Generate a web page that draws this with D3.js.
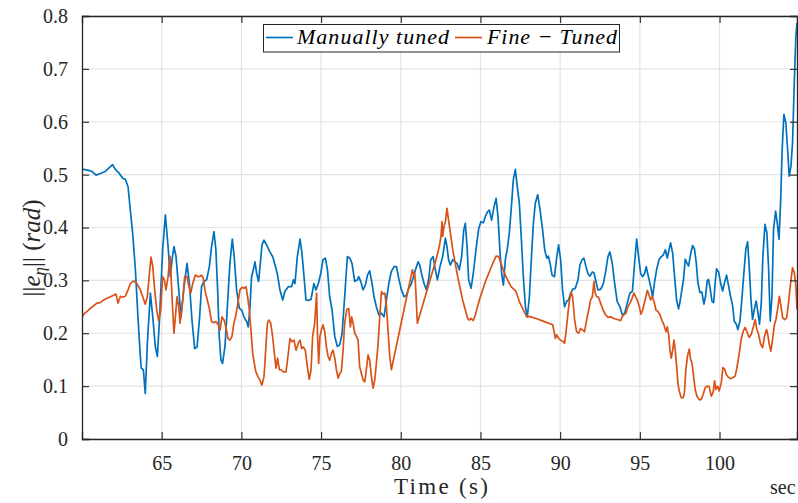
<!DOCTYPE html>
<html>
<head>
<meta charset="utf-8">
<script src="https://cdn.jsdelivr.net/npm/d3@7"></script>
<style>
  html, body { margin: 0; padding: 0; background: #ffffff; overflow: hidden; }
  svg { display: block; }
  text { font-family: "Liberation Serif", "Times New Roman", serif; }
</style>
</head>
<body>
<svg id="chart" width="798" height="503"></svg>
<script>
// Attitude error norm over time for two controller tunings
const manualTime = [60.0,60.1,60.42,60.63,60.88,61.15,61.46,61.78,61.92,62.09,62.3,62.55,62.72,62.89,63.03,63.18,63.35,63.51,63.66,63.72,63.85,63.97,64.1,64.29,64.44,64.6,64.73,64.87,65.06,65.23,65.4,65.54,65.65,65.77,65.9,66.07,66.21,66.38,66.59,66.74,66.9,67.07,67.22,67.38,67.5,67.65,67.82,67.99,68.13,68.28,68.4,68.51,68.61,68.72,68.82,68.97,69.12,69.28,69.43,69.55,69.7,69.87,70.02,70.16,70.33,70.43,70.54,70.64,70.75,70.85,70.96,71.08,71.21,71.29,71.42,71.58,71.79,71.96,72.11,72.25,72.42,72.59,72.73,72.94,73.15,73.26,73.36,73.51,73.68,73.8,73.93,74.05,74.2,74.37,74.55,74.68,74.83,74.98,75.12,75.27,75.4,75.54,75.69,75.86,76.02,76.17,76.32,76.48,76.65,76.8,76.94,77.11,77.28,77.36,77.49,77.63,77.78,77.91,78.05,78.2,78.32,78.47,78.62,78.78,78.95,79.1,79.25,79.41,79.58,79.73,79.87,80.04,80.21,80.35,80.5,80.63,80.77,80.92,81.09,81.19,81.3,81.46,81.61,81.76,81.88,82.03,82.17,82.3,82.46,82.63,82.8,82.9,83.0,83.11,83.26,83.4,83.53,83.67,83.82,83.95,84.05,84.16,84.26,84.41,84.55,84.72,84.89,85.03,85.18,85.31,85.45,85.56,85.7,85.85,85.98,86.1,86.23,86.35,86.44,86.56,86.69,86.81,86.94,87.06,87.19,87.31,87.44,87.57,87.69,87.82,87.94,88.07,88.19,88.32,88.44,88.59,88.74,88.9,89.03,89.16,89.26,89.37,89.49,89.64,89.78,89.9,90.03,90.15,90.28,90.4,90.53,90.66,90.78,90.95,91.12,91.24,91.37,91.49,91.62,91.74,91.87,92.02,92.12,92.25,92.37,92.54,92.71,92.85,93.0,93.12,93.27,93.42,93.58,93.75,93.9,94.05,94.21,94.38,94.53,94.67,94.8,94.92,95.05,95.18,95.3,95.4,95.53,95.68,95.8,95.93,96.05,96.2,96.35,96.47,96.6,96.72,96.83,96.93,97.06,97.18,97.31,97.43,97.53,97.64,97.74,97.85,97.95,98.06,98.16,98.31,98.43,98.54,98.64,98.77,98.89,99.02,99.12,99.23,99.31,99.42,99.52,99.63,99.73,99.81,99.94,100.06,100.19,100.32,100.44,100.57,100.69,100.82,100.92,101.05,101.15,101.28,101.4,101.53,101.65,101.76,101.86,101.97,102.07,102.18,102.3,102.41,102.51,102.62,102.72,102.85,102.97,103.08,103.18,103.29,103.39,103.52,103.62,103.73,103.83,103.93,104.04,104.16,104.27,104.37,104.48,104.58,104.69,104.79,104.86];
const manualErr = [0.51,0.51,0.508,0.506,0.499,0.502,0.506,0.515,0.519,0.51,0.504,0.493,0.491,0.477,0.433,0.389,0.32,0.231,0.156,0.134,0.131,0.086,0.181,0.276,0.231,0.175,0.156,0.231,0.358,0.424,0.364,0.307,0.339,0.364,0.345,0.282,0.231,0.282,0.332,0.294,0.225,0.171,0.174,0.231,0.288,0.298,0.301,0.326,0.364,0.392,0.358,0.282,0.194,0.149,0.143,0.175,0.25,0.332,0.378,0.345,0.282,0.247,0.244,0.231,0.222,0.212,0.25,0.307,0.32,0.335,0.313,0.298,0.339,0.367,0.376,0.367,0.354,0.345,0.329,0.313,0.282,0.263,0.279,0.288,0.288,0.301,0.294,0.345,0.378,0.351,0.307,0.263,0.262,0.264,0.294,0.282,0.294,0.313,0.339,0.342,0.32,0.269,0.244,0.194,0.175,0.178,0.2,0.269,0.345,0.342,0.332,0.298,0.301,0.307,0.298,0.282,0.291,0.31,0.318,0.294,0.269,0.25,0.235,0.238,0.231,0.263,0.294,0.317,0.326,0.326,0.304,0.282,0.269,0.272,0.285,0.291,0.304,0.32,0.335,0.329,0.313,0.294,0.282,0.304,0.339,0.345,0.32,0.301,0.326,0.345,0.38,0.364,0.339,0.329,0.339,0.335,0.332,0.32,0.345,0.395,0.408,0.364,0.301,0.285,0.313,0.358,0.398,0.411,0.409,0.421,0.43,0.433,0.414,0.439,0.455,0.421,0.351,0.307,0.291,0.339,0.361,0.389,0.439,0.49,0.51,0.477,0.446,0.376,0.307,0.25,0.231,0.269,0.339,0.408,0.446,0.462,0.433,0.395,0.358,0.342,0.346,0.332,0.31,0.307,0.342,0.367,0.339,0.282,0.25,0.26,0.263,0.276,0.283,0.285,0.301,0.329,0.339,0.342,0.326,0.313,0.308,0.316,0.314,0.298,0.282,0.283,0.294,0.316,0.345,0.354,0.332,0.294,0.26,0.25,0.235,0.238,0.257,0.276,0.279,0.332,0.378,0.345,0.313,0.307,0.313,0.326,0.308,0.288,0.269,0.298,0.32,0.339,0.345,0.348,0.358,0.342,0.358,0.371,0.351,0.307,0.262,0.246,0.261,0.283,0.302,0.34,0.333,0.327,0.346,0.366,0.359,0.333,0.296,0.277,0.278,0.255,0.27,0.299,0.302,0.283,0.261,0.258,0.296,0.322,0.316,0.296,0.28,0.296,0.31,0.289,0.27,0.252,0.223,0.217,0.207,0.223,0.264,0.315,0.359,0.373,0.327,0.264,0.226,0.245,0.261,0.239,0.217,0.258,0.346,0.406,0.39,0.321,0.223,0.27,0.397,0.431,0.409,0.378,0.447,0.548,0.614,0.598,0.548,0.497,0.516,0.56,0.674,0.762,0.787];

const fineTime = [60.0,60.17,60.31,60.52,60.73,60.94,61.15,61.36,61.57,61.78,61.99,62.13,62.26,62.41,62.55,62.72,62.89,63.03,63.24,63.45,63.66,63.81,63.97,64.1,64.23,64.33,64.44,64.56,64.69,64.81,64.94,65.06,65.17,65.27,65.4,65.52,65.61,65.69,65.77,65.86,65.96,66.07,66.15,66.23,66.34,66.44,66.59,66.69,66.82,66.95,67.11,67.28,67.43,67.5,67.61,67.71,67.86,67.99,68.13,68.28,68.4,68.55,68.66,68.78,68.91,69.03,69.16,69.28,69.41,69.53,69.66,69.78,69.91,70.04,70.16,70.29,70.39,70.5,70.6,70.71,70.81,70.91,71.04,71.17,71.29,71.42,71.54,71.63,71.71,71.84,71.96,72.09,72.17,72.27,72.38,72.5,72.63,72.8,72.92,73.05,73.17,73.3,73.43,73.57,73.68,73.78,73.89,74.01,74.14,74.26,74.37,74.47,74.6,74.72,74.78,74.85,74.93,75.02,75.12,75.23,75.33,75.44,75.54,75.65,75.75,75.86,75.96,76.07,76.17,76.27,76.38,76.48,76.61,76.73,76.84,76.92,77.01,77.11,77.22,77.32,77.42,77.53,77.63,77.74,77.84,77.95,78.05,78.16,78.26,78.37,78.47,78.58,78.68,78.79,78.89,79.0,79.1,79.2,79.31,79.41,80.73,80.81,80.88,80.94,81.04,82.21,82.42,82.52,82.59,82.63,82.71,82.8,82.9,83.0,83.26,83.57,83.88,84.2,84.3,84.41,84.55,84.68,84.93,85.35,85.77,85.98,86.14,86.29,86.6,86.92,87.23,87.44,87.69,87.9,88.07,88.49,89.01,89.53,89.62,89.7,89.78,89.91,90.03,90.2,90.28,90.38,90.49,90.59,90.7,90.78,90.91,91.03,91.16,91.28,91.41,91.53,91.66,91.79,91.91,92.02,92.12,92.2,92.29,92.39,92.54,92.69,92.85,93.0,93.17,93.38,93.58,93.79,93.9,94.0,94.13,94.25,94.38,94.51,94.63,94.74,94.84,94.97,95.07,95.18,95.28,95.38,95.47,95.57,95.68,95.78,95.89,96.01,96.14,96.26,96.39,96.51,96.64,96.72,96.81,96.89,96.97,97.06,97.14,97.22,97.31,97.39,97.47,97.6,97.72,97.8,97.89,97.99,98.1,98.18,98.27,98.37,98.47,98.58,98.73,98.85,98.98,99.1,99.23,99.35,99.48,99.6,99.69,99.77,99.88,99.98,100.11,100.21,100.32,100.42,100.52,100.67,100.82,100.98,101.11,101.24,101.36,101.49,101.61,101.74,101.86,101.99,102.11,102.24,102.34,102.45,102.58,102.7,102.83,102.95,103.04,103.12,103.22,103.33,103.43,103.54,103.64,103.75,103.85,103.96,104.08,104.21,104.33,104.46,104.58,104.69,104.79,104.86];
const fineErr = [0.231,0.238,0.241,0.247,0.252,0.257,0.258,0.263,0.266,0.269,0.272,0.274,0.257,0.27,0.268,0.27,0.282,0.294,0.299,0.294,0.282,0.269,0.255,0.269,0.313,0.344,0.326,0.282,0.244,0.224,0.244,0.307,0.301,0.282,0.307,0.346,0.294,0.244,0.2,0.231,0.269,0.25,0.219,0.238,0.269,0.307,0.307,0.291,0.276,0.294,0.31,0.307,0.308,0.31,0.304,0.282,0.263,0.247,0.222,0.22,0.222,0.216,0.206,0.231,0.225,0.212,0.19,0.187,0.194,0.219,0.235,0.257,0.282,0.287,0.285,0.288,0.269,0.244,0.206,0.162,0.143,0.127,0.118,0.111,0.102,0.118,0.175,0.219,0.225,0.219,0.194,0.156,0.134,0.153,0.131,0.131,0.127,0.127,0.156,0.19,0.184,0.187,0.168,0.181,0.187,0.171,0.174,0.168,0.137,0.113,0.131,0.194,0.219,0.276,0.194,0.143,0.194,0.206,0.216,0.203,0.175,0.156,0.149,0.162,0.168,0.153,0.131,0.115,0.124,0.127,0.168,0.219,0.245,0.247,0.212,0.231,0.219,0.2,0.194,0.187,0.137,0.124,0.112,0.108,0.131,0.159,0.149,0.118,0.096,0.112,0.143,0.181,0.231,0.279,0.274,0.276,0.25,0.206,0.156,0.131,0.32,0.31,0.313,0.282,0.219,0.339,0.364,0.383,0.411,0.383,0.402,0.411,0.436,0.414,0.358,0.307,0.263,0.228,0.225,0.228,0.224,0.235,0.263,0.301,0.332,0.346,0.345,0.332,0.307,0.288,0.279,0.26,0.244,0.231,0.232,0.228,0.222,0.216,0.203,0.19,0.197,0.19,0.187,0.184,0.181,0.206,0.238,0.263,0.277,0.269,0.225,0.203,0.2,0.209,0.206,0.203,0.225,0.244,0.263,0.269,0.298,0.276,0.269,0.269,0.257,0.244,0.235,0.23,0.231,0.228,0.226,0.224,0.231,0.235,0.238,0.25,0.257,0.266,0.276,0.269,0.263,0.25,0.236,0.244,0.257,0.269,0.281,0.273,0.263,0.269,0.26,0.244,0.241,0.235,0.224,0.216,0.203,0.212,0.197,0.168,0.153,0.168,0.187,0.168,0.137,0.105,0.091,0.078,0.078,0.088,0.132,0.157,0.17,0.151,0.144,0.119,0.094,0.081,0.074,0.075,0.085,0.097,0.1,0.099,0.081,0.088,0.11,0.094,0.1,0.091,0.107,0.135,0.132,0.122,0.118,0.114,0.116,0.119,0.138,0.163,0.189,0.204,0.211,0.201,0.192,0.198,0.211,0.226,0.207,0.198,0.179,0.173,0.195,0.207,0.195,0.179,0.166,0.189,0.214,0.226,0.245,0.27,0.252,0.229,0.226,0.229,0.258,0.296,0.324,0.315,0.289,0.245];

const xTicks = [65, 70, 75, 80, 85, 90, 95, 100];
const yTicks = [0, 0.1, 0.2, 0.3, 0.4, 0.5, 0.6, 0.7, 0.8];
const seriesNames = ["Manually tuned", "Fine \u2212 Tuned"];
const seriesColors = ["#0072BD", "#D95319"];

const serif = "'Liberation Serif', 'Times New Roman', serif";
const box = { left: 82, right: 797, top: 16, bottom: 439 };

const svg = d3.select("#chart");
const x = d3.scaleLinear().domain([60, 104.86]).range([box.left, box.right]);
const y = d3.scaleLinear().domain([0, 0.8]).range([box.bottom, box.top]);

const axisColor = "#262626";
const gridColor = "#e3e3e3";
const tickLen = 7;

// grid
const grid = svg.append("g");
grid.selectAll("line.gx").data(xTicks).join("line")
  .attr("x1", d => x(d)).attr("x2", d => x(d))
  .attr("y1", box.top).attr("y2", box.bottom)
  .attr("stroke", gridColor).attr("stroke-width", 1.2);
grid.selectAll("line.gy").data(yTicks).join("line")
  .attr("x1", box.left).attr("x2", box.right)
  .attr("y1", d => y(d)).attr("y2", d => y(d))
  .attr("stroke", gridColor).attr("stroke-width", 1.2);

// data lines
svg.append("defs").append("clipPath").attr("id", "plotclip")
  .append("rect").attr("x", box.left).attr("y", box.top - 1)
  .attr("width", box.right - box.left + 1).attr("height", box.bottom - box.top + 1);

const line = d3.line().x(d => x(d[0])).y(d => y(d[1]));
const series = [
  d3.zip(manualTime, manualErr),
  d3.zip(fineTime, fineErr)
];
const plot = svg.append("g").attr("clip-path", "url(#plotclip)");
series.forEach((s, i) => {
  plot.append("path").datum(s)
    .attr("d", line)
    .attr("fill", "none")
    .attr("stroke", seriesColors[i])
    .attr("stroke-width", 1.7)
    .attr("stroke-linejoin", "round");
});

// axes: bottom/left with labels, top/right mirrored ticks only
const fmtY = d => d === 0 ? "0" : d3.format(".1f")(d);
const axB = svg.append("g").attr("transform", `translate(0,${box.bottom})`)
  .call(d3.axisBottom(x).tickValues(xTicks).tickSize(-tickLen).tickPadding(17).tickFormat(d3.format("d")));
const axT = svg.append("g").attr("transform", `translate(0,${box.top})`)
  .call(d3.axisTop(x).tickValues(xTicks).tickSize(-tickLen).tickFormat(""));
const axL = svg.append("g").attr("transform", `translate(${box.left},0)`)
  .call(d3.axisLeft(y).tickValues(yTicks).tickSize(-tickLen).tickPadding(14).tickFormat(fmtY));
const axR = svg.append("g").attr("transform", `translate(${box.right},0)`)
  .call(d3.axisRight(y).tickValues(yTicks).tickSize(-tickLen).tickFormat(""));

[axB, axT, axL, axR].forEach(a => {
  a.attr("font-family", serif).attr("font-size", 20);
  a.select(".domain").attr("stroke", axisColor).attr("stroke-width", 1.3);
  a.selectAll(".tick line").attr("stroke", axisColor).attr("stroke-width", 1.1);
  a.selectAll(".tick text").attr("fill", axisColor)
    .attr("font-family", serif).attr("font-size", 20);
});
axB.selectAll(".tick text").attr("dy", "0.71em");

// axis titles
svg.append("text")
  .attr("x", 441).attr("y", 494)
  .attr("text-anchor", "middle")
  .attr("fill", axisColor)
  .attr("font-family", serif)
  .attr("font-size", 23)
  .attr("textLength", 94).attr("lengthAdjust", "spacing")
  .text("Time (s)");

svg.append("text")
  .attr("x", 770).attr("y", 494)
  .attr("fill", axisColor)
  .attr("font-family", serif)
  .attr("font-size", 20)
  .text("sec");

const yl = svg.append("text")
  .attr("transform", "translate(40,248) rotate(-90)")
  .attr("text-anchor", "middle")
  .attr("fill", axisColor)
  .attr("font-family", serif)
  .attr("font-size", 25);
yl.append("tspan").text("||");
yl.append("tspan").attr("font-style", "italic").text("e");
yl.append("tspan").attr("font-style", "italic").attr("font-size", 17).attr("dy", 5).text("\u03b7");
yl.append("tspan").attr("dy", -5).text("|| (");
yl.append("tspan").attr("font-style", "italic").text("rad");
yl.append("tspan").text(")");

// legend
const lg = svg.append("g");
lg.append("rect")
  .attr("x", 263.5).attr("y", 24.5).attr("width", 356).attr("height", 27.5)
  .attr("fill", "#ffffff").attr("stroke", axisColor).attr("stroke-width", 1);
const legendItems = [
  { x0: 266, x1: 293, tx: 297, tl: 152 },
  { x0: 455, x1: 482, tx: 487, tl: 130 }
];
legendItems.forEach((it, i) => {
  lg.append("line")
    .attr("x1", it.x0).attr("x2", it.x1).attr("y1", 37.5).attr("y2", 37.5)
    .attr("stroke", seriesColors[i]).attr("stroke-width", 1.7);
  lg.append("text")
    .attr("x", it.tx).attr("y", 44)
    .attr("font-family", serif)
    .attr("font-size", 22).attr("font-style", "italic")
    .attr("fill", "#000000")
    .attr("textLength", it.tl).attr("lengthAdjust", "spacing")
    .text(seriesNames[i]);
});
</script>
</body>
</html>
